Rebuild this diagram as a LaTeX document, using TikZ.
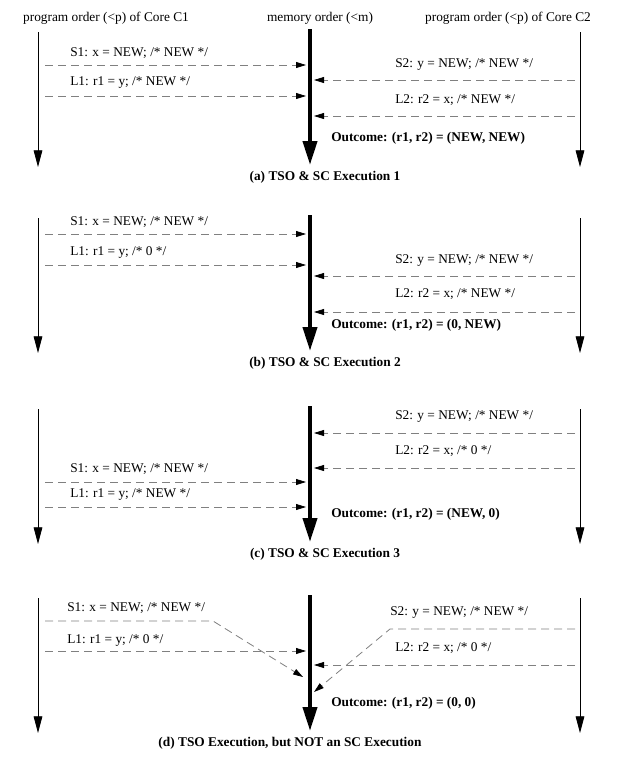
\documentclass[tikz,border=0pt]{standalone}
\usepackage{fontspec}
\setmainfont{Liberation Serif}
\usetikzlibrary{arrows.meta}

\begin{document}
\begin{tikzpicture}[x=0.75pt, y=-0.75pt,
    order/.style={line width=0.6pt, -{Triangle[width=6.5pt,length=12.5pt]}},
    memory/.style={line width=3pt, -{Triangle[width=10.5pt,length=18pt]}},
    access/.style={black!50, line width=0.6pt, dash pattern=on 6pt off 3.75pt, -{Triangle[black,width=4.5pt,length=7.5pt]}},
    instr/.style={anchor=west, inner sep=0pt},
    result/.style={anchor=west, inner sep=0pt, font=\bfseries},
    caption/.style={inner sep=0pt, font=\bfseries}]
    \useasboundingbox (0,0) rectangle (620,757);

    \node (hdr-c1) at (106,18) {program order (<p) of Core C1};
    \node (hdr-m) at (320,18) {memory order (<m)};
    \node (hdr-c2) at (508,18) {program order (<p) of Core C2};

    % (a)
    \coordinate (a-c1-top) at (38,32);  \coordinate (a-c1-end) at (38,167);
    \coordinate (a-m-top) at (310,29);  \coordinate (a-m-end) at (310,165);
    \coordinate (a-c2-top) at (580,32); \coordinate (a-c2-end) at (580,167);
    \draw[order] (a-c1-top) -- (a-c1-end);
    \draw[memory] (a-m-top) -- (a-m-end);
    \draw[order] (a-c2-top) -- (a-c2-end);

    \node[instr] (a-s1) at (70,53) {S1: x = NEW; /* NEW */};
    \coordinate (a-s1-from) at (45,65);  \coordinate (a-s1-to) at (306,65);
    \draw[access] (a-s1-from) -- (a-s1-to);
    \node[instr] (a-l1) at (70,83) {L1: r1 = y; /* NEW */};
    \coordinate (a-l1-from) at (45,96);  \coordinate (a-l1-to) at (306,96);
    \draw[access] (a-l1-from) -- (a-l1-to);
    \node[instr] (a-s2) at (395,65) {S2: y = NEW; /* NEW */};
    \coordinate (a-s2-from) at (575,80); \coordinate (a-s2-to) at (314,80);
    \draw[access] (a-s2-from) -- (a-s2-to);
    \node[instr] (a-l2) at (395,100) {L2: r2 = x; /* NEW */};
    \coordinate (a-l2-from) at (575,116); \coordinate (a-l2-to) at (314,116);
    \draw[access] (a-l2-from) -- (a-l2-to);

    \node[result] (a-out) at (331,138) {Outcome: (r1, r2) = (NEW, NEW)};
    \node[caption] (a-cap) at (325,177) {(a) TSO \& SC Execution 1};

    % (b)
    \begin{scope}[shift={(0,186)}]
    \coordinate (b-c1-top) at (38,32);  \coordinate (b-c1-end) at (38,167);
    \coordinate (b-m-top) at (310,29);  \coordinate (b-m-end) at (310,165);
    \coordinate (b-c2-top) at (580,32); \coordinate (b-c2-end) at (580,167);
    \draw[order] (b-c1-top) -- (b-c1-end);
    \draw[memory] (b-m-top) -- (b-m-end);
    \draw[order] (b-c2-top) -- (b-c2-end);

    \node[instr] (b-s1) at (70,36) {S1: x = NEW; /* NEW */};
    \coordinate (b-s1-from) at (45,48);  \coordinate (b-s1-to) at (306,48);
    \draw[access] (b-s1-from) -- (b-s1-to);
    \node[instr] (b-l1) at (70,67) {L1: r1 = y; /* 0 */};
    \coordinate (b-l1-from) at (45,79);  \coordinate (b-l1-to) at (306,79);
    \draw[access] (b-l1-from) -- (b-l1-to);
    \node[instr] (b-s2) at (395,75) {S2: y = NEW; /* NEW */};
    \coordinate (b-s2-from) at (575,90); \coordinate (b-s2-to) at (314,90);
    \draw[access] (b-s2-from) -- (b-s2-to);
    \node[instr] (b-l2) at (395,108) {L2: r2 = x; /* NEW */};
    \coordinate (b-l2-from) at (575,126); \coordinate (b-l2-to) at (314,126);
    \draw[access] (b-l2-from) -- (b-l2-to);

    \node[result] (b-out) at (331,139) {Outcome: (r1, r2) = (0, NEW)};
    \node[caption] (b-cap) at (325,177) {(b) TSO \& SC Execution 2};
    \end{scope}

    % (c)
    \begin{scope}[shift={(0,377)}]
    \coordinate (c-c1-top) at (38,32);  \coordinate (c-c1-end) at (38,167);
    \coordinate (c-m-top) at (310,29);  \coordinate (c-m-end) at (310,165);
    \coordinate (c-c2-top) at (580,32); \coordinate (c-c2-end) at (580,167);
    \draw[order] (c-c1-top) -- (c-c1-end);
    \draw[memory] (c-m-top) -- (c-m-end);
    \draw[order] (c-c2-top) -- (c-c2-end);

    \node[instr] (c-s2) at (395,40) {S2: y = NEW; /* NEW */};
    \coordinate (c-s2-from) at (575,56); \coordinate (c-s2-to) at (314,56);
    \draw[access] (c-s2-from) -- (c-s2-to);
    \node[instr] (c-l2) at (395,74) {L2: r2 = x; /* 0 */};
    \coordinate (c-l2-from) at (575,91); \coordinate (c-l2-to) at (314,91);
    \draw[access] (c-l2-from) -- (c-l2-to);
    \node[instr] (c-s1) at (70,92) {S1: x = NEW; /* NEW */};
    \coordinate (c-s1-from) at (45,105);  \coordinate (c-s1-to) at (306,105);
    \draw[access] (c-s1-from) -- (c-s1-to);
    \node[instr] (c-l1) at (70,118) {L1: r1 = y; /* NEW */};
    \coordinate (c-l1-from) at (45,130);  \coordinate (c-l1-to) at (306,130);
    \draw[access] (c-l1-from) -- (c-l1-to);

    \node[result] (c-out) at (331,137) {Outcome: (r1, r2) = (NEW, 0)};
    \node[caption] (c-cap) at (325,177) {(c) TSO \& SC Execution 3};
    \end{scope}

    % (d) store buffers delay S1 and S2
    \begin{scope}[shift={(0,566)}]
    \coordinate (d-c1-top) at (38,32);  \coordinate (d-c1-end) at (38,167);
    \coordinate (d-m-top) at (310,29);  \coordinate (d-m-end) at (310,165);
    \coordinate (d-c2-top) at (580,32); \coordinate (d-c2-end) at (580,167);
    \draw[order] (d-c1-top) -- (d-c1-end);
    \draw[memory] (d-m-top) -- (d-m-end);
    \draw[order] (d-c2-top) -- (d-c2-end);

    \node[instr] (d-s1) at (67,42) {S1: x = NEW; /* NEW */};
    \coordinate (d-s1-from) at (45,55); \coordinate (d-s1-bend) at (213,55);
    \coordinate (d-s1-to) at (303,111);
    \draw[access] (d-s1-from) -- (d-s1-bend) -- (d-s1-to);
    \node[instr] (d-l1) at (67,74) {L1: r1 = y; /* 0 */};
    \coordinate (d-l1-from) at (45,85);  \coordinate (d-l1-to) at (306,85);
    \draw[access] (d-l1-from) -- (d-l1-to);
    \node[instr] (d-s2) at (390,47) {S2: y = NEW; /* NEW */};
    \coordinate (d-s2-from) at (575,63); \coordinate (d-s2-bend) at (390,63);
    \coordinate (d-s2-to) at (314,126);
    \draw[access] (d-s2-from) -- (d-s2-bend) -- (d-s2-to);
    \node[instr] (d-l2) at (395,82) {L2: r2 = x; /* 0 */};
    \coordinate (d-l2-from) at (575,99); \coordinate (d-l2-to) at (314,99);
    \draw[access] (d-l2-from) -- (d-l2-to);

    \node[result] (d-out) at (331,137) {Outcome: (r1, r2) = (0, 0)};
    \node[caption] (d-cap) at (290,177) {(d) TSO Execution, but NOT an SC Execution};
    \end{scope}
\end{tikzpicture}
\end{document}
